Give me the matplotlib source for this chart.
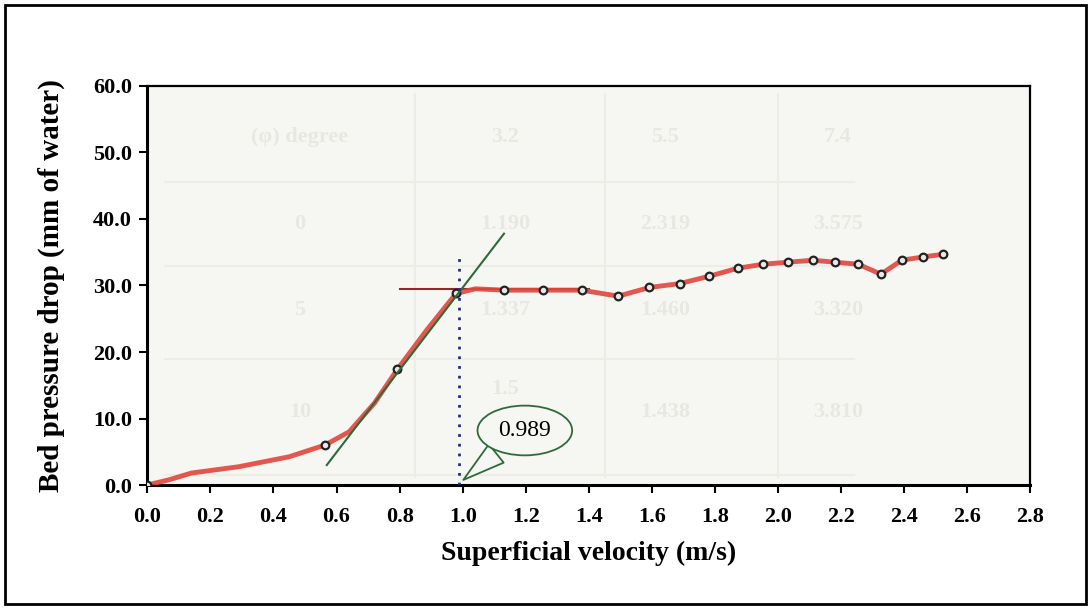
import matplotlib.pyplot as plt
from matplotlib.patches import Rectangle

# measured points (markers)
velocity = [0.0, 0.563, 0.793, 0.979, 1.131, 1.256, 1.377, 1.493, 1.592, 1.689,
            1.782, 1.872, 1.953, 2.030, 2.110, 2.181, 2.254, 2.326, 2.392, 2.460, 2.524]
pressure = [0.0, 6.0, 17.4, 28.8, 29.3, 29.3, 29.3, 28.4, 29.7, 30.3,
            31.4, 32.6, 33.2, 33.5, 33.8, 33.5, 33.2, 31.7, 33.8, 34.3, 34.7]

# extra points (no markers)
curve_v = [0.07, 0.14, 0.29, 0.45, 0.64, 0.72, 0.886, 1.04]
curve_p = [0.8, 1.8, 2.75, 4.25, 8.0, 12.3, 23.3, 29.5]

# tangent lines and onset of fluidisation
tangent_v = [0.569, 1.131]
tangent_p = [3.0, 37.8]
plateau_v = [0.80, 1.40]
plateau_p = [29.4, 29.4]
u_mf = 0.989

xticks = [0.0, 0.2, 0.4, 0.6, 0.8, 1.0, 1.2, 1.4, 1.6, 1.8, 2.0, 2.2, 2.4, 2.6, 2.8]
yticks = [0.0, 10.0, 20.0, 30.0, 40.0, 50.0, 60.0]

# faint table showing through the page
ghost_rows = [['(\u03c6) degree', '3.2', '5.5', '7.4'],
              ['0', '1.190', '2.319', '3.575'],
              ['5', '1.337', '1.460', '3.320'],
              ['10', '1.5', '1.438', '3.810']]

serif = 'Liberation Serif'
bg = '#f6f6f2'

fig = plt.figure(figsize=(10.91, 6.09), dpi=100)
fig.patch.set_facecolor('white')
fig.patches.append(Rectangle((0.005, 0.008), 0.99, 0.984, transform=fig.transFigure,
                             fill=False, ec='black', lw=2))

ax = fig.add_axes([0.135, 0.2036, 0.8095, 0.6552])
ax.set_facecolor(bg)

# ghost table
col_x = [0.484, 1.134, 1.641, 2.19]
row_y = [52.3, 39.2, 26.3, 11.0]
for r, row in enumerate(ghost_rows):
    for c, txt in enumerate(row):
        yy = row_y[r] + (3.5 if (r, c) == (3, 1) else 0)
        ax.text(col_x[c], yy, txt, ha='center', va='center', fontsize=16,
                family=serif, fontweight='bold', color='#e8e8e3', zorder=0)
for yy in [45.5, 33.0, 19.0, 1.5]:
    ax.axhline(yy, xmin=0.02, xmax=0.80, color='#ededE8', lw=1.5, zorder=0)
for xx in [0.85, 1.45, 2.0]:
    ax.axvline(xx, ymin=0.02, ymax=0.98, color='#ededE8', lw=1.5, zorder=0)

# main curve
pts = sorted(zip(velocity + curve_v, pressure + curve_p))
ax.plot([p[0] for p in pts], [p[1] for p in pts], color='#e0473c', lw=3.5,
        alpha=0.9, solid_capstyle='round', zorder=3)
ax.plot(velocity, pressure, ls='none', marker='o', ms=5.5, mfc='#e8e8e8',
        mec='#222222', mew=1.6, zorder=4)

ax.plot(tangent_v, tangent_p, color='#2f6b3a', lw=1.5, zorder=5)
ax.plot(plateau_v, plateau_p, color='#8c2a2a', lw=1.5, zorder=2)
ax.plot([u_mf, u_mf], [0, 34.8], color='#23307a', lw=2, ls=(0, (1, 2.5)), zorder=5)

ax.annotate(f'{u_mf:.3f}', xy=(0.995, 0.5), xytext=(1.197, 8.2),
            ha='center', va='center', fontsize=17, family=serif,
            bbox=dict(boxstyle='ellipse,pad=0.3', fc=bg, ec='#2f6b3a', lw=1.3),
            arrowprops=dict(arrowstyle='wedge,tail_width=1.0,shrink_factor=0.5',
                            fc=bg, ec='#2f6b3a', lw=1.3),
            zorder=6)

ax.set_xlim(0, 2.8)
ax.set_ylim(0, 60)
ax.set_xticks(xticks)
ax.set_yticks(yticks)
ax.set_xticklabels([f'{t:.1f}' for t in xticks])
ax.set_yticklabels([f'{t:.1f}' for t in yticks])
ax.tick_params(axis='both', direction='out', length=6, width=1.5, labelsize=16)
ax.tick_params(axis='x', pad=10)
ax.tick_params(axis='y', pad=5)
for lab in ax.get_xticklabels() + ax.get_yticklabels():
    lab.set_family(serif)
    lab.set_fontweight('bold')

for side in ['left', 'bottom']:
    ax.spines[side].set_linewidth(2.2)
for side in ['top', 'right']:
    ax.spines[side].set_linewidth(1.6)

ax.set_xlabel('Superficial velocity (m/s)', family=serif, fontweight='bold',
              fontsize=20, labelpad=10)
ax.set_ylabel('Bed pressure drop (mm of water)', family=serif, fontweight='bold',
              fontsize=21, labelpad=20)

fig.savefig('out.png', dpi=100)
